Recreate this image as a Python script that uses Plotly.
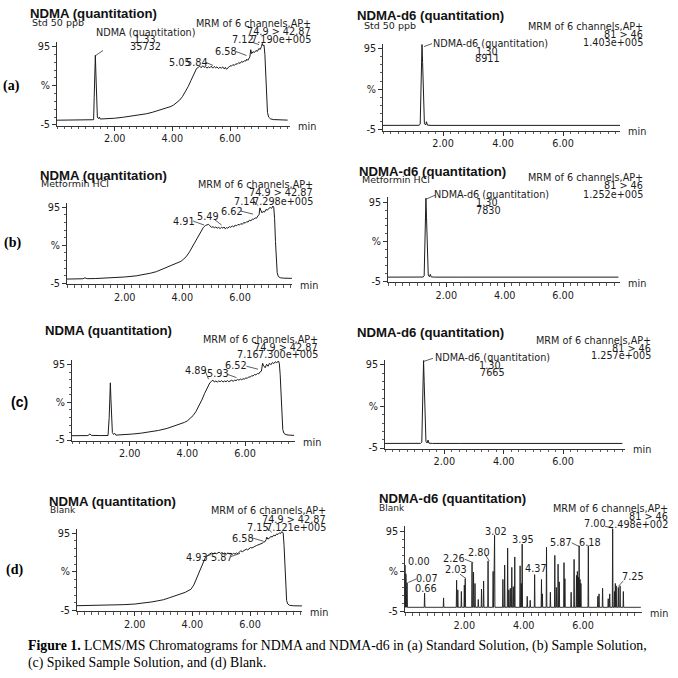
import plotly.graph_objects as go
import numpy as np

W = H = 678
SANS = "DejaVu Sans"
BOLDSANS = "Liberation Sans"
SERIF = "Liberation Serif"
INK = "#1c1c1c"

# ---------------------------------------------------------------- data
# NDMA channel (left column): (retention time [min], intensity [%])
aL_trace = [(0.00, 1.0), (0.30, 1.2), (0.60, 1.1), (0.90, 1.3), (1.20, 1.4), (1.27, 1.6), (1.29, 30), (1.31, 70),
            (1.33, 84), (1.35, 60), (1.37, 20), (1.40, 5), (1.44, 3), (1.47, 5), (1.50, 2.5), (1.70, 2.6),
            (2.00, 3.5), (2.30, 4.8), (2.60, 6.2), (2.90, 7.8), (3.10, 9.2), (3.30, 11.0), (3.50, 13.0),
            (3.70, 15.5), (3.85, 17.0), (3.95, 18.5), (4.05, 20.5), (4.15, 23.0), (4.25, 26.5), (4.35, 31.0),
            (4.45, 37.0), (4.55, 44.0), (4.65, 52.0), (4.72, 58.0), (4.78, 63.0), (4.84, 67.0), (4.90, 68.5),
            (4.95, 70.0), (5.00, 68.0), (5.05, 70.5), (5.10, 68.5), (5.15, 69.5), (5.20, 67.5), (5.25, 69.0),
            (5.30, 68.0), (5.35, 70.0), (5.40, 67.5), (5.45, 69.5), (5.50, 68.0), (5.55, 69.0), (5.60, 67.0),
            (5.65, 68.5), (5.70, 67.5), (5.75, 69.0), (5.80, 66.5), (5.84, 68.5), (5.88, 66.0), (5.92, 68.0),
            (5.96, 69.5), (6.00, 70.5), (6.05, 70.0), (6.10, 72.0), (6.15, 71.0), (6.20, 73.0), (6.25, 72.5),
            (6.30, 74.5), (6.35, 73.5), (6.40, 76.0), (6.45, 75.0), (6.50, 77.0), (6.55, 76.5), (6.58, 79.0),
            (6.62, 77.5), (6.66, 80.0), (6.69, 82.0), (6.72, 91.0), (6.75, 86.0), (6.80, 88.5), (6.85, 87.5),
            (6.90, 90.0), (6.95, 89.0), (7.00, 92.5), (7.05, 91.5), (7.09, 95.0), (7.12, 99.0), (7.15, 96.0),
            (7.18, 97.0), (7.21, 85.0), (7.24, 55.0), (7.27, 25.0), (7.30, 11.0), (7.34, 5.0), (7.40, 2.8),
            (7.50, 1.8), (7.65, 1.4), (7.80, 1.2), (8.00, 1.1)]

bL_trace = [(0.00, 0.8), (0.30, 0.9), (0.55, 1.2), (0.62, 2.4), (0.70, 1.3), (1.00, 1.5), (1.50, 2.3), (2.00, 3.5),
            (2.40, 5.0), (2.70, 6.8), (2.90, 8.5), (3.10, 10.5), (3.30, 13.5), (3.50, 16.5), (3.65, 19.0),
            (3.75, 20.5), (3.85, 22.0), (3.95, 24.0), (4.05, 27.0), (4.15, 31.0), (4.25, 36.5), (4.35, 43.0),
            (4.45, 50.5), (4.55, 57.5), (4.65, 64.0), (4.73, 68.5), (4.80, 71.0), (4.86, 71.5), (4.91, 72.5),
            (4.96, 70.5), (5.01, 68.5), (5.06, 69.5), (5.11, 68.0), (5.16, 69.0), (5.21, 67.5), (5.26, 68.5),
            (5.31, 67.0), (5.36, 68.5), (5.41, 67.5), (5.45, 69.0), (5.49, 66.5), (5.53, 68.0), (5.58, 67.5),
            (5.63, 69.5), (5.68, 68.5), (5.73, 70.5), (5.78, 69.0), (5.83, 71.5), (5.88, 70.5), (5.93, 72.5),
            (5.98, 71.5), (6.03, 73.5), (6.08, 72.5), (6.13, 75.0), (6.18, 74.0), (6.23, 76.0), (6.28, 75.5),
            (6.33, 78.0), (6.38, 77.0), (6.43, 79.5), (6.48, 79.0), (6.53, 81.0), (6.57, 80.5), (6.62, 83.5),
            (6.66, 85.0), (6.69, 94.0), (6.72, 90.0), (6.76, 87.5), (6.80, 89.5), (6.85, 88.5), (6.90, 92.0),
            (6.95, 91.0), (7.00, 93.5), (7.05, 94.5), (7.10, 93.5), (7.14, 96.5), (7.17, 95.0), (7.20, 80.0),
            (7.23, 50.0), (7.26, 22.0), (7.29, 9.0), (7.33, 4.0), (7.40, 2.5), (7.50, 2.0), (7.65, 1.8),
            (7.80, 1.7)]

cL_trace = [(0.00, 0.8), (0.30, 0.9), (0.55, 1.0), (0.62, 3.0), (0.68, 1.2), (1.00, 1.0), (1.25, 1.1), (1.29, 25),
            (1.31, 55), (1.33, 71), (1.35, 50), (1.37, 18), (1.40, 5), (1.44, 2.5), (1.48, 4.0), (1.52, 1.6),
            (1.80, 2.0), (2.10, 3.0), (2.40, 4.2), (2.70, 5.8), (3.00, 7.8), (3.30, 10.5), (3.55, 13.5),
            (3.75, 16.5), (3.90, 18.5), (4.00, 20.5), (4.10, 23.5), (4.20, 27.5), (4.30, 33.0), (4.40, 40.0),
            (4.50, 48.0), (4.60, 57.0), (4.70, 65.0), (4.78, 71.0), (4.84, 73.0), (4.89, 74.5), (4.94, 72.0),
            (4.99, 73.5), (5.04, 72.0), (5.09, 73.5), (5.14, 72.5), (5.19, 74.0), (5.24, 72.0), (5.29, 73.5),
            (5.34, 72.5), (5.39, 74.0), (5.44, 72.5), (5.49, 73.0), (5.54, 74.5), (5.59, 73.0), (5.64, 74.5),
            (5.69, 74.0), (5.74, 75.5), (5.79, 74.5), (5.84, 76.0), (5.89, 75.0), (5.93, 76.5), (5.98, 76.0),
            (6.03, 77.5), (6.08, 77.0), (6.13, 79.0), (6.18, 78.5), (6.23, 80.5), (6.28, 80.0), (6.33, 82.0),
            (6.38, 81.5), (6.43, 83.5), (6.48, 83.0), (6.52, 85.5), (6.57, 86.5), (6.61, 97.0), (6.65, 93.5),
            (6.70, 91.0), (6.75, 95.5), (6.80, 93.0), (6.85, 97.0), (6.90, 95.0), (6.95, 98.0), (7.00, 96.5),
            (7.05, 99.0), (7.10, 97.5), (7.16, 100.0), (7.19, 97.0), (7.22, 82.0), (7.25, 50.0), (7.28, 22.0),
            (7.31, 9.0), (7.35, 4.0), (7.42, 2.2), (7.52, 1.6), (7.70, 1.3)]

dL_trace = [(0.00, 1.3), (0.40, 1.5), (0.80, 1.8), (1.20, 2.1), (1.60, 2.6), (2.00, 3.4), (2.30, 4.4), (2.60, 6.2),
            (2.80, 7.6), (3.00, 9.0), (3.20, 11.5), (3.40, 14.0), (3.55, 15.5), (3.65, 17.5), (3.75, 18.5),
            (3.85, 20.5), (3.95, 22.5), (4.05, 28.0), (4.12, 34.0), (4.20, 42.0), (4.28, 50.0), (4.36, 57.0),
            (4.44, 62.5), (4.52, 66.0), (4.60, 68.0), (4.66, 69.5), (4.72, 68.5), (4.78, 69.5), (4.84, 68.5),
            (4.89, 70.0), (4.93, 70.5), (4.98, 69.0), (5.03, 70.0), (5.08, 68.5), (5.13, 69.5), (5.18, 68.0),
            (5.23, 69.5), (5.28, 68.5), (5.33, 69.0), (5.38, 67.5), (5.43, 69.0), (5.48, 68.0), (5.53, 69.5),
            (5.58, 68.5), (5.63, 70.5), (5.68, 72.5), (5.73, 71.0), (5.78, 72.5), (5.83, 73.5), (5.87, 74.5),
            (5.92, 73.5), (5.97, 75.5), (6.02, 76.5), (6.07, 76.0), (6.12, 77.5), (6.17, 78.0), (6.22, 79.0),
            (6.27, 79.5), (6.32, 80.5), (6.37, 81.0), (6.42, 82.0), (6.47, 83.5), (6.52, 84.0), (6.56, 87.0),
            (6.58, 90.0), (6.62, 87.5), (6.67, 88.5), (6.72, 91.0), (6.77, 90.0), (6.82, 92.5), (6.87, 91.5),
            (6.92, 94.0), (6.97, 93.5), (7.02, 95.5), (7.06, 94.5), (7.10, 97.0), (7.15, 95.5), (7.18, 80.0),
            (7.21, 48.0), (7.24, 20.0), (7.27, 8.0), (7.31, 3.5), (7.37, 1.8), (7.50, 1.2), (7.65, 1.0),
            (7.80, 1.0)]

# NDMA-d6 channel (right column)
aR_trace = [(0.00, 0.5), (0.50, 0.5), (1.00, 0.5), (1.20, 0.6), (1.24, 2.0), (1.26, 30), (1.28, 80), (1.30, 100),
            (1.32, 78), (1.34, 40), (1.36, 12), (1.38, 3.0), (1.42, 1.0), (1.45, 5.0), (1.48, 0.8), (1.60, 0.5),
            (2.50, 0.5), (4.00, 0.5), (5.50, 0.5), (7.00, 0.5), (7.90, 0.5)]
bR_trace = [(0.00, 0.5), (0.50, 0.5), (1.00, 0.5), (1.20, 0.6), (1.24, 2.0), (1.26, 30), (1.28, 82), (1.30, 100),
            (1.32, 76), (1.34, 38), (1.36, 11), (1.38, 3.0), (1.42, 1.0), (1.45, 4.0), (1.48, 0.8), (1.60, 0.5),
            (2.50, 0.5), (4.00, 0.5), (5.50, 0.5), (7.00, 0.5), (7.90, 0.5)]
cR_trace = [(0.00, 0.5), (0.50, 0.5), (1.00, 0.5), (1.20, 0.6), (1.24, 2.0), (1.26, 32), (1.28, 84), (1.30, 100),
            (1.32, 75), (1.34, 36), (1.36, 10), (1.38, 3.0), (1.42, 1.0), (1.45, 4.5), (1.48, 0.8), (1.60, 0.5),
            (2.50, 0.5), (4.00, 0.5), (5.50, 0.5), (7.00, 0.5), (8.00, 0.5)]

# Blank, NDMA-d6: noise spikes (time, height)
dR_spikes = [(0.00, 53), (0.03, 42), (0.07, 31), (0.66, 18), (1.30, 12), (1.74, 34), (1.78, 22), (1.90, 20),
             (2.00, 28), (2.03, 36), (2.26, 56), (2.31, 44), (2.36, 30), (2.47, 10), (2.58, 23), (2.65, 33),
             (2.80, 58), (2.97, 45), (3.00, 57), (3.02, 90), (3.30, 35), (3.36, 53), (3.46, 74), (3.50, 22),
             (3.55, 24), (3.60, 50), (3.65, 26), (3.70, 63), (3.88, 52), (3.92, 30), (3.95, 79), (4.12, 14),
             (4.22, 9), (4.37, 41), (4.60, 35), (4.63, 17), (4.77, 75), (4.90, 19), (5.05, 65), (5.10, 25),
             (5.16, 54), (5.20, 32), (5.36, 56), (5.39, 36), (5.60, 19), (5.70, 60), (5.78, 40), (5.81, 45),
             (5.84, 38), (5.87, 77), (5.90, 35), (5.93, 30), (6.18, 77), (6.50, 14), (6.54, 17), (6.66, 24),
             (6.85, 11), (6.90, 17), (7.00, 98), (7.06, 20), (7.09, 30), (7.12, 27), (7.19, 25), (7.25, 27),
             (7.36, 20)]
dR_baseline = 0.3
dR_span = (0.0, 7.95)

x_tick_vals = [2, 4, 6]
x_tick_text = ["2.00", "4.00", "6.00"]
y_tick_vals = [-5, 45, 95]
y_tick_text = ["-5", "%", "95"]

# ---------------------------------------------------------------- layout geometry (pixels)
panels = {
    "aL": dict(xL=57, x6=230, xR=290, y95=46, ym5=125),
    "bL": dict(xL=67, x6=240, xR=292, y95=208, ym5=285),
    "cL": dict(xL=72, x6=245, xR=295, y95=367, ym5=443),
    "dL": dict(xL=77, x6=250, xR=302, y95=537, ym5=615),
    "aR": dict(xL=383, x6=563, xR=620, y95=48, ym5=130),
    "bR": dict(xL=388, x6=563, xR=620, y95=203, ym5=283),
    "cR": dict(xL=385, x6=563, xR=625, y95=367, ym5=451),
    "dR": dict(xL=405, x6=583, xR=642, y95=535, ym5=616),
}
Y_LO, Y_HI = -6, 101

def px2fx(x):
    return x / W

def px2fy(y):
    return 1 - y / H

# build spike trace for blank d6
w = 0.012
dR_t = [dR_span[0]]
dR_v = [dR_baseline]
for t, h in sorted(dR_spikes):
    dR_t += [t - w, t, t + w]
    dR_v += [dR_baseline, h, dR_baseline]
dR_t.append(dR_span[1])
dR_v.append(dR_baseline)

series = {
    "aL": ([p[0] for p in aL_trace], [p[1] for p in aL_trace]),
    "bL": ([p[0] for p in bL_trace], [p[1] for p in bL_trace]),
    "cL": ([p[0] for p in cL_trace], [p[1] for p in cL_trace]),
    "dL": ([p[0] for p in dL_trace], [p[1] for p in dL_trace]),
    "aR": ([p[0] for p in aR_trace], [p[1] for p in aR_trace]),
    "bR": ([p[0] for p in bR_trace], [p[1] for p in bR_trace]),
    "cR": ([p[0] for p in cR_trace], [p[1] for p in cR_trace]),
    "dR": (dR_t, dR_v),
}

fig = go.Figure()
layout = dict(width=W, height=H, margin=dict(l=0, r=0, t=0, b=0), paper_bgcolor="white",
              plot_bgcolor="white", showlegend=False)
annotations = []
shapes = []

def txt(x, y, s, anchor="left", size=9.7, family=SANS, color=INK):
    annotations.append(dict(x=px2fx(x), y=px2fy(y), xref="paper", yref="paper", text=s, showarrow=False,
                            xanchor=anchor, yanchor="middle", font=dict(family=family, size=size, color=color)))

def title(x, y, s):
    txt(x, y, "<b>" + s + "</b>", size=13.2, family=BOLDSANS, color="#111")

def leader(x1, y1, x2, y2):
    shapes.append(dict(type="line", xref="paper", yref="paper", x0=px2fx(x1), y0=px2fy(y1),
                       x1=px2fx(x2), y1=px2fy(y2), line=dict(color="#333", width=0.8)))

for i, (key, g) in enumerate(panels.items(), start=1):
    s = (g["x6"] - g["xL"]) / 6.0
    ppu = (g["ym5"] - g["y95"]) / 100.0
    xr = [0, (g["xR"] - g["xL"]) / s]
    bottom = g["ym5"] + (-5 - Y_LO) * ppu
    top = g["y95"] - (Y_HI - 95) * ppu
    xa = "xaxis" if i == 1 else f"xaxis{i}"
    ya = "yaxis" if i == 1 else f"yaxis{i}"
    xs, ys = series[key]
    fig.add_trace(go.Scatter(x=xs, y=ys, mode="lines", line=dict(color=INK, width=1.0 if key != "dR" else 0.9),
                             xaxis=f"x{i}" if i > 1 else "x", yaxis=f"y{i}" if i > 1 else "y",
                             hoverinfo="skip"))
    layout[xa] = dict(domain=[px2fx(g["xL"]), px2fx(g["xR"])], range=xr, anchor=f"y{i}" if i > 1 else "y",
                      showgrid=False, zeroline=False, showline=True, linecolor="#333", linewidth=1,
                      ticks="outside", ticklen=4, tickcolor="#333", tickwidth=1,
                      tickmode="array", tickvals=x_tick_vals, ticktext=x_tick_text,
                      tickfont=dict(family=SANS, size=9.7, color=INK),
                      minor=dict(tickmode="linear", tick0=0, dtick=0.25, ticks="outside", ticklen=2.5,
                                 tickcolor="#333", tickwidth=0.8))
    layout[ya] = dict(domain=[px2fy(bottom), px2fy(top)], range=[Y_LO, Y_HI], anchor=f"x{i}" if i > 1 else "x",
                      showgrid=False, zeroline=False, showline=True, linecolor="#333", linewidth=1,
                      ticks="outside", ticklen=4, tickcolor="#333", tickwidth=1,
                      tickmode="array", tickvals=y_tick_vals, ticktext=y_tick_text,
                      tickfont=dict(family=SANS, size=9.7, color=INK),
                      minor=dict(tickmode="linear", tick0=-5, dtick=10, ticks="outside", ticklen=2.5,
                                 tickcolor="#333", tickwidth=0.8))
    txt(g["xR"] + 6, g["ym5"] + 2, "min")

# ---- (a) Std 50 ppb
title(28, 13, "NDMA (quantitation)")
txt(30, 21.5, "Std 50 ppb", size=9.5)
txt(313, 23, "MRM of 6 channels,AP+", anchor="right")
txt(313, 31, "74.9 &gt; 42.87", anchor="right")
txt(313, 39, "7.190e+005", anchor="right")
txt(145, 31.7, "NDMA (quantitation)", anchor="center")
txt(145, 38.5, "1.33", anchor="center")
txt(145, 45.5, "35732", anchor="center")
txt(180, 62, "5.05", anchor="center")
txt(197, 62, "5.84", anchor="center")
txt(226, 51, "6.58", anchor="center")
txt(243, 39, "7.12", anchor="center")
leader(95.7, 55, 103, 50)
leader(206, 62, 213, 65)
leader(236, 51, 246.5, 55)
leader(252, 41.5, 259, 44)

title(355, 15, "NDMA-d6 (quantitation)")
txt(362, 25, "Std 50 ppb", size=9.5)
txt(645, 26, "MRM of 6 channels,AP+", anchor="right")
txt(645, 33.5, "81 &gt; 46", anchor="right")
txt(645, 42, "1.403e+005", anchor="right")
txt(490.5, 42.5, "NDMA-d6 (quantitation)", anchor="center")
txt(487.5, 50.5, "1.30", anchor="center")
txt(487.5, 58.5, "8911", anchor="center")
leader(424, 46, 432, 43)

# ---- (b) Metformin HCl
title(38, 176, "NDMA (quantitation)")
txt(39, 184.5, "Metformin HCl", size=9.5)
txt(315, 185, "MRM of 6 channels,AP+", anchor="right")
txt(315, 193, "74.9 &gt; 42.87", anchor="right")
txt(315, 202, "7.298e+005", anchor="right")
txt(184, 222, "4.91", anchor="center")
txt(208, 217, "5.49", anchor="center")
txt(232, 212, "6.62", anchor="center")
txt(245, 202, "7.14", anchor="center")
leader(193, 222, 204, 226)
leader(214, 220, 221.5, 226)
leader(241, 212, 253, 215)
leader(254, 202, 258, 206.5)

title(357, 172, "NDMA-d6 (quantitation)")
txt(360, 180.5, "Metformin HCl", size=9.5)
txt(645, 178, "MRM of 6 channels,AP+", anchor="right")
txt(645, 186.5, "81 &gt; 46", anchor="right")
txt(645, 195, "1.252e+005", anchor="right")
txt(491.5, 195, "NDMA-d6 (quantitation)", anchor="center")
txt(487.5, 203, "1.30", anchor="center")
txt(488, 211.5, "7830", anchor="center")
leader(426, 200, 435, 196)

# ---- (c) Spiked sample
title(43, 332, "NDMA (quantitation)")
txt(320, 342, "MRM of 6 channels,AP+", anchor="right")
txt(320, 349.5, "74.9 &gt; 42.87", anchor="right")
txt(320, 357, "7.300e+005", anchor="right")
txt(196, 373, "4.89", anchor="center")
txt(218, 376, "5.93", anchor="center")
txt(236, 368, "6.52", anchor="center")
txt(248, 357, "7.16", anchor="center")
leader(205, 373, 208.5, 381.5)
leader(227, 376.5, 236.5, 380)
leader(246.5, 368.5, 258, 371.5)

title(355, 334, "NDMA-d6 (quantitation)")
txt(653, 343, "MRM of 6 channels,AP+", anchor="right")
txt(653, 350.5, "81 &gt; 46", anchor="right")
txt(653, 358, "1.257e+005", anchor="right")
txt(492.5, 359.3, "NDMA-d6 (quantitation)", anchor="center")
txt(490, 367.3, "1.30", anchor="center")
txt(492, 375.3, "7665", anchor="center")
leader(424, 363.5, 433, 360.5)

# ---- (d) Blank
title(47, 505, "NDMA (quantitation)")
txt(48, 514, "Blank", size=9)
txt(328, 514, "MRM of 6 channels,AP+", anchor="right")
txt(328, 523, "74.9 &gt; 42.87", anchor="right")
txt(328, 531, "7.121e+005", anchor="right")
txt(197, 561, "4.93", anchor="center")
txt(222, 561, "5.87", anchor="center")
txt(243, 542, "6.58", anchor="center")
txt(258, 531, "7.15", anchor="center")
leader(206, 560.5, 211.5, 558.3)
leader(231, 560.5, 240, 557.3)
leader(252, 541.7, 263.3, 545)
leader(267, 531.7, 271.7, 536)

title(377, 502, "NDMA-d6 (quantitation)")
txt(377, 512, "Blank", size=9)
txt(670, 512, "MRM of 6 channels,AP+", anchor="right")
txt(670, 520, "81 &gt; 46", anchor="right")
txt(670, 528, "2.498e+002", anchor="right")
txt(419, 565, "0.00", anchor="center")
txt(427, 582.5, "0.07", anchor="center")
txt(426, 593, "0.66", anchor="center")
txt(456, 574, "2.03", anchor="center")
txt(454, 562.5, "2.26", anchor="center")
txt(479, 556, "2.80", anchor="center")
txt(496, 535, "3.02", anchor="center")
txt(522.5, 543.3, "3.95", anchor="center")
txt(536, 572.5, "4.37", anchor="center")
txt(561, 546, "5.87", anchor="center")
txt(590, 546, "6.18", anchor="center")
txt(595, 527.5, "7.00", anchor="center")
txt(633, 581, "7.25", anchor="center")
leader(408.3, 586.7, 416.5, 583)
leader(460, 578.3, 466, 582.7)
leader(465, 563.3, 473.3, 566.7)
leader(485, 558.3, 489.3, 565)
leader(571.7, 546.7, 579.5, 550.5)
leader(605, 530, 613, 531.7)
leader(623.3, 585, 618.3, 590.7)

# ---- panel letters and caption
txt(11, 86, "<b>(a)</b>", anchor="center", size=14, family=SERIF, color="#000")
txt(12, 244, "<b>(b)</b>", anchor="center", size=14, family=SERIF, color="#000")
txt(19, 405, "<b>(c)</b>", anchor="center", size=14, family="Liberation Sans", color="#000")
txt(14, 574, "<b>(d)</b>", anchor="center", size=14, family=SERIF, color="#000")
txt(26, 651, "<b>Figure 1.</b> LCMS/MS Chromatograms for NDMA and NDMA-d6 in (a) Standard Solution, "
             "(b) Sample Solution,", size=13.8, family=SERIF, color="#000")
txt(26, 668, "(c) Spiked Sample Solution, and (d) Blank.", size=13.8, family=SERIF, color="#000")

layout["annotations"] = annotations
layout["shapes"] = shapes
fig.update_layout(**layout)
fig.write_html("out.html", config={"displayModeBar": False, "staticPlot": True},
               post_script="document.body.style.margin='0';document.body.style.overflow='hidden';")
